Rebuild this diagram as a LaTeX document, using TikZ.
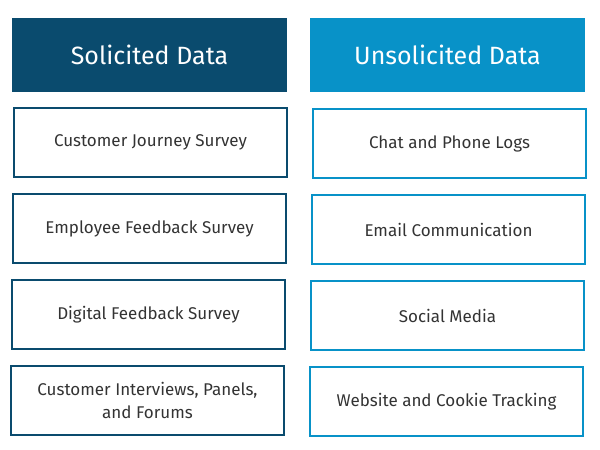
\documentclass[tikz,border=0pt]{standalone}
\usepackage{fontspec}
\setmainfont{Fira Sans}
\definecolor{dblue}{HTML}{0A4B6E}
\definecolor{lblue}{HTML}{0892C8}
\definecolor{txt}{HTML}{333333}
\begin{document}
\begin{tikzpicture}[x=1pt,y=-1pt,
  hdr/.style={minimum width=275pt,minimum height=74pt,inner sep=0pt,text=white,font=\fontsize{25}{28}\selectfont},
  lbox/.style={draw=dblue,line width=1.5pt,minimum width=273pt,minimum height=69pt,inner sep=0pt,align=center,text=txt,font=\fontsize{17}{23}\selectfont},
  rbox/.style={lbox,draw=lblue}]
\useasboundingbox (0,0) rectangle (600,450);
\node[hdr,fill=dblue] (h1) at (149.5,55) {Solicited Data};
\node[hdr,fill=lblue] (h2) at (447.5,55) {Unsolicited Data};
\node[lbox] (l1) at (150.5,142.5) {Customer Journey Survey};
\node[lbox] (l2) at (149.5,228.5) {Employee Feedback Survey};
\node[lbox] (l3) at (148.5,314.5) {Digital Feedback Survey};
\node[lbox] (l4) at (147.5,400.5) {Customer Interviews, Panels,\\and Forums};
\node[rbox] (r1) at (449.5,143.5) {Chat and Phone Logs};
\node[rbox] (r2) at (448.5,229.5) {Email Communication};
\node[rbox] (r3) at (447.5,315.5) {Social Media};
\node[rbox] (r4) at (446.5,401.5) {Website and Cookie Tracking};
\end{tikzpicture}
\end{document}
